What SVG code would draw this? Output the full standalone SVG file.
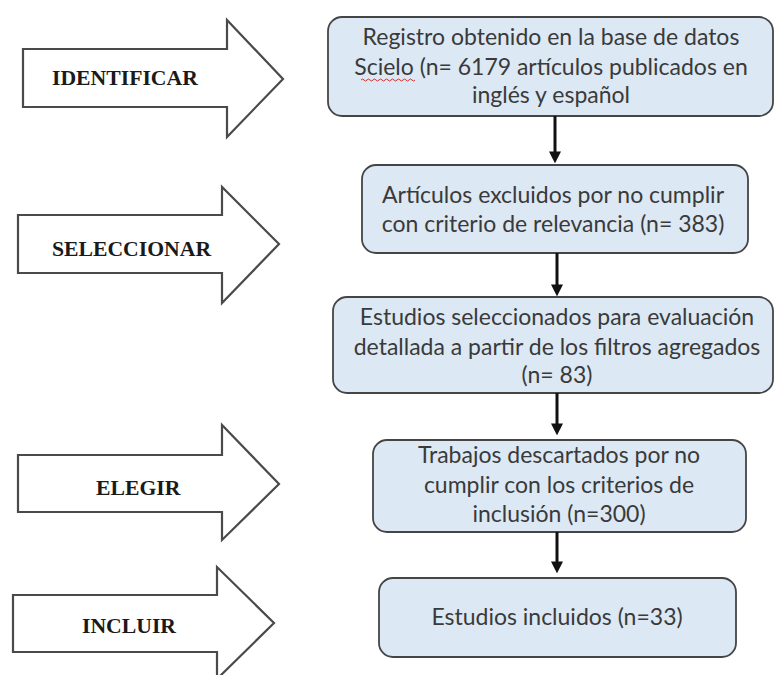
<svg xmlns="http://www.w3.org/2000/svg" width="775" height="675" viewBox="0 0 775 675">
<defs>
<style>
.arr{fill:#ffffff;stroke:#4a4a4a;stroke-width:2.2}
.lab{font-family:"Liberation Serif","Times New Roman",serif;font-weight:bold;font-size:21.7px;fill:#1a1a1a}
.box{fill:#dce8f4;stroke:#454545;stroke-width:1.8}
.txt{font-family:Lato,"Liberation Sans",sans-serif;font-size:23px;fill:#3a3a3a;text-anchor:middle}
.con{stroke:#111111;stroke-width:3;fill:none}
</style>
<marker id="ah" markerWidth="4" markerHeight="4" refX="2.2" refY="2" orient="auto" markerUnits="strokeWidth">
<path d="M0,0 L4,2 L0,4 z" fill="#111111"/>
</marker>
</defs>
<rect width="775" height="675" fill="#ffffff"/>
<g id="arrow-identificar">
<path class="arr" d="M23,49 H227 V20 L283,79 L227,137 V107 H23 Z"/>
<text class="lab" x="52" y="85">IDENTIFICAR</text>
</g>
<g id="arrow-seleccionar">
<path class="arr" d="M18,215 H222 V187 L279,244 L222,303 V273 H18 Z"/>
<text class="lab" x="52" y="256">SELECCIONAR</text>
</g>
<g id="arrow-elegir">
<path class="arr" d="M18,455 H222 V425 L279,484 L222,540 V512 H18 Z"/>
<text class="lab" x="96" y="495">ELEGIR</text>
</g>
<g id="arrow-incluir">
<path class="arr" d="M13,595 H217 V567 L274,623 L217,679 V652 H13 Z"/>
<text class="lab" x="82" y="633">INCLUIR</text>
</g>
<g id="box1">
<rect class="box" x="328" y="17" width="445" height="99" rx="14"/>
<text class="txt" x="551" y="45">Registro obtenido en la base de datos</text>
<text class="txt" x="551" y="75">Scielo (n= 6179 artículos publicados en</text>
<text class="txt" x="551" y="103">inglés y español</text>
<path d="M361,80 q1.5,-2 3,0 t3,0 t3,0 t3,0 t3,0 t3,0 t3,0 t3,0 t3,0 t3,0 t3,0 t3,0 t3,0 t3,0 t3,0 t3,0 t3,0 t3,0" fill="none" stroke="#d03030" stroke-width="1"/>
</g>
<g id="box2">
<rect class="box" x="362" y="165" width="386" height="88" rx="14"/>
<text class="txt" x="553" y="203">Artículos excluidos por no cumplir</text>
<text class="txt" x="553" y="232">con criterio de relevancia (n= 383)</text>
</g>
<g id="box3">
<rect class="box" x="333" y="297" width="440" height="96" rx="14"/>
<text class="txt" x="557" y="325">Estudios seleccionados para evaluación</text>
<text class="txt" x="557" y="355">detallada a partir de los filtros agregados</text>
<text class="txt" x="557" y="383">(n= 83)</text>
</g>
<g id="box4">
<rect class="box" x="373" y="440" width="373" height="92" rx="14"/>
<text class="txt" x="559" y="463">Trabajos descartados por no</text>
<text class="txt" x="559" y="493">cumplir con los criterios de</text>
<text class="txt" x="559" y="522">inclusión (n=300)</text>
</g>
<g id="box5">
<rect class="box" x="379" y="578" width="357" height="79" rx="14"/>
<text class="txt" x="557" y="625">Estudios incluidos (n=33)</text>
</g>
<g id="connectors">
<line class="con" x1="555" y1="116" x2="555" y2="158" marker-end="url(#ah)"/>
<line class="con" x1="557" y1="253" x2="557" y2="291" marker-end="url(#ah)"/>
<line class="con" x1="557" y1="393" x2="557" y2="430" marker-end="url(#ah)"/>
<line class="con" x1="557" y1="532" x2="557" y2="568" marker-end="url(#ah)"/>
</g>
</svg>
